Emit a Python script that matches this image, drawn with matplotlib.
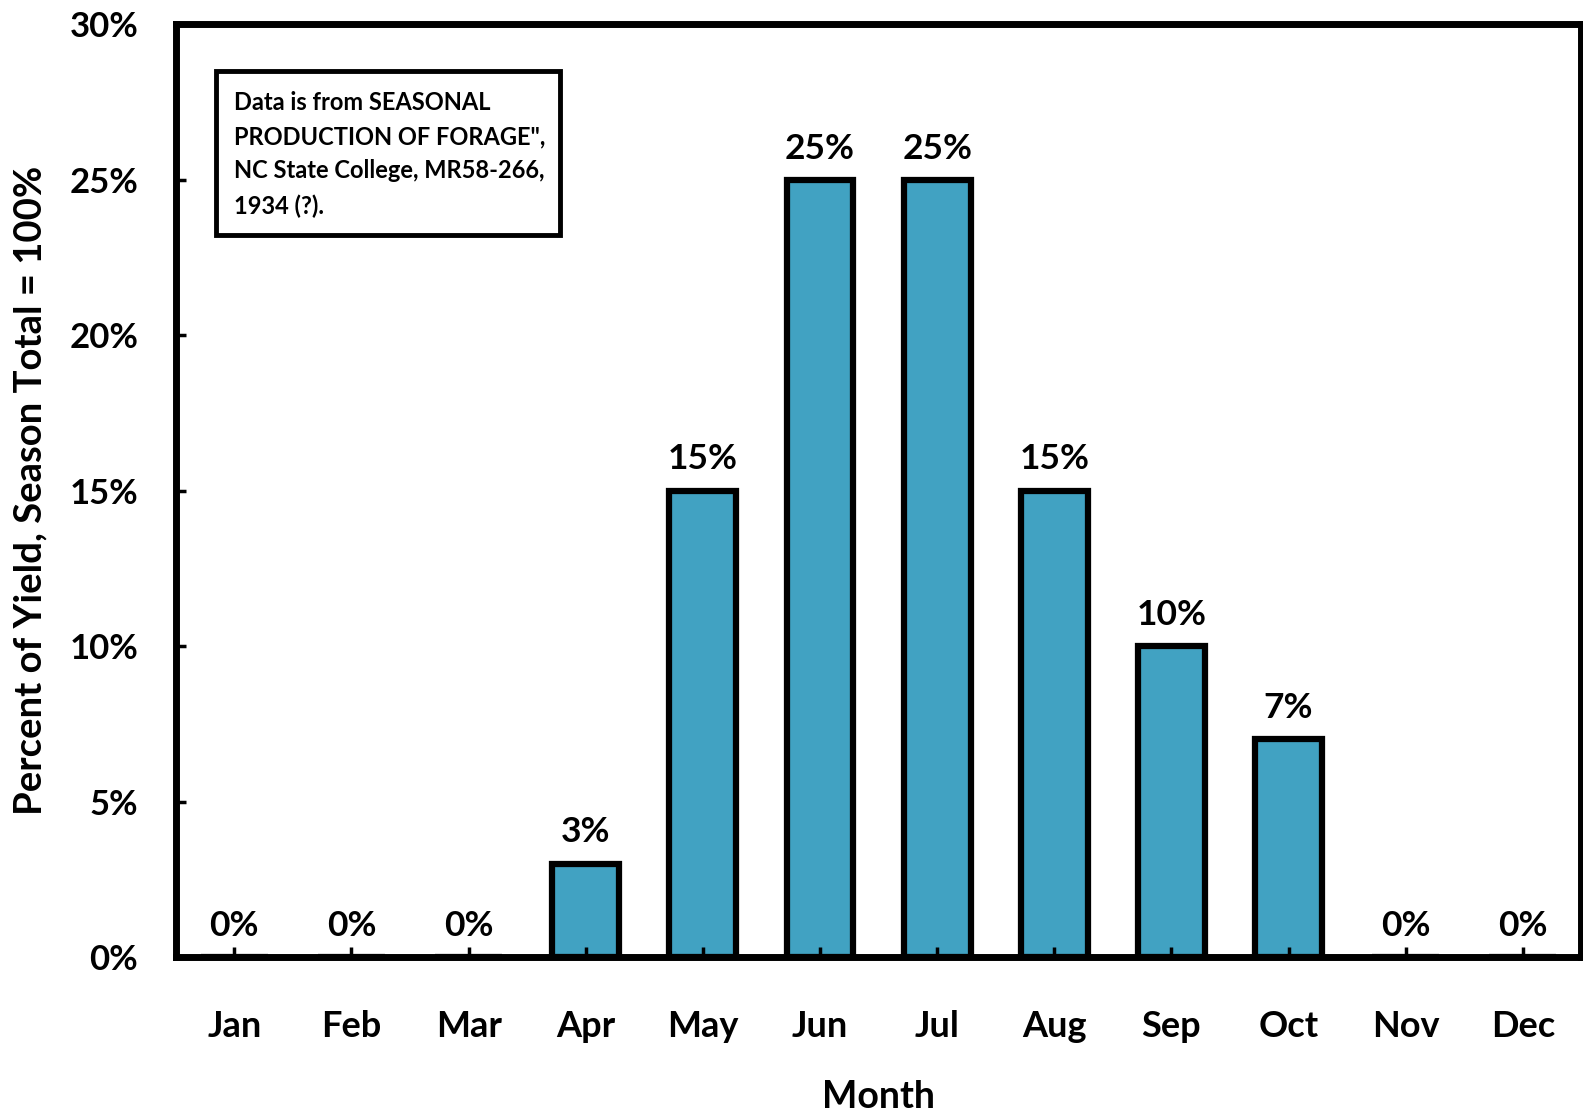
import numpy as np
import matplotlib
matplotlib.use("Agg")
import matplotlib.pyplot as plt
from matplotlib.patches import Rectangle

months = ["Jan", "Feb", "Mar", "Apr", "May", "Jun", "Jul", "Aug", "Sep", "Oct", "Nov", "Dec"]
pct = [0, 0, 0, 3, 15, 25, 25, 15, 10, 7, 0, 0]
yticks = [0, 5, 10, 15, 20, 25, 30]
note = ('Data is from SEASONAL\nPRODUCTION OF FORAGE",\n'
        'NC State College, MR58-266,\n1934 (?).')

plt.rcParams["font.family"] = ["Lato", "DejaVu Sans"]
plt.rcParams["font.weight"] = "bold"

fig = plt.figure(figsize=(15.83, 11.12), dpi=100)
ax = fig.add_axes([0.111, 0.1394, 0.888, 0.8386])

x = np.arange(len(months)) + 0.5
ax.bar(x, pct, width=0.57, color="#41A2C2", edgecolor="black", linewidth=4.5, zorder=2)

for xi, v in zip(x, pct):
    ax.annotate(f"{v}%", (xi, v), xytext=(0, 11), textcoords="offset points",
                ha="center", va="bottom", fontsize=25.5, fontweight="bold")

ax.set_xlim(0, 12)
ax.set_ylim(0, 30)
ax.set_xticks(x)
ax.set_xticklabels(months, fontsize=26, fontweight="bold")
ax.set_yticks(yticks)
ax.set_yticklabels([f"{t}%" for t in yticks], fontsize=25, fontweight="bold")
ax.tick_params(axis="x", direction="in", length=7, width=2.5, pad=38, top=False)
ax.tick_params(axis="y", direction="in", length=7, width=2.5, pad=27, right=False)
ax.set_axisbelow(False)
for s in ax.spines.values():
    s.set_linewidth(5)
    s.set_zorder(3)

ax.set_xlabel("Month", fontsize=27, fontweight="bold", labelpad=27)
ax.set_ylabel("Percent of Yield, Season Total = 100%", fontsize=27.5, fontweight="bold", labelpad=16)

ax.add_patch(Rectangle((0.0284, 0.7738), 0.2452, 0.1758, transform=ax.transAxes,
                       facecolor="white", edgecolor="black", linewidth=3.5, zorder=4))
ax.text(0.0412, 0.929, note, transform=ax.transAxes, ha="left", va="top",
        fontsize=17, fontweight="bold", linespacing=1.6, zorder=5)

fig.savefig("out.png", dpi=100)
